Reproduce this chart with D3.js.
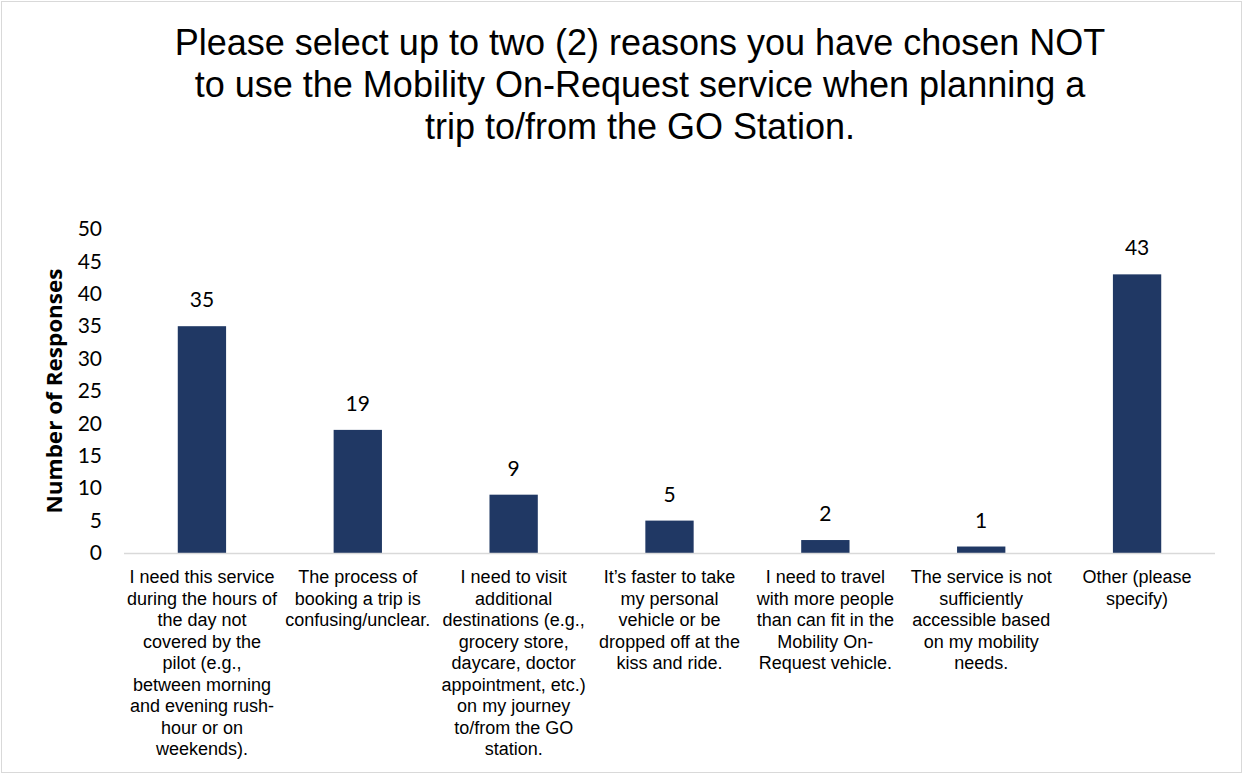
<!DOCTYPE html>
<html><head><meta charset="utf-8">
<script src="https://cdn.jsdelivr.net/npm/d3@7/dist/d3.min.js"></script>
<style>body{margin:0;background:#fff}svg{display:block}</style>
</head><body>
<svg id="c" width="1244" height="775"></svg>
<script>
const titleLines = ["Please select up to two (2) reasons you have chosen NOT","to use the Mobility On-Request service when planning a","trip to/from the GO Station."];
const categories = [
 ["I need this service","during the hours of","the day not","covered by the","pilot (e.g.,","between morning","and evening rush-","hour or on","weekends)."],
 ["The process of","booking a trip is","confusing/unclear."],
 ["I need to visit","additional","destinations (e.g.,","grocery store,","daycare, doctor","appointment, etc.)","on my journey","to/from the GO","station."],
 ["It\u2019s faster to take","my personal","vehicle or be","dropped off at the","kiss and ride."],
 ["I need to travel","with more people","than can fit in the","Mobility On-","Request vehicle."],
 ["The service is not","sufficiently","accessible based","on my mobility","needs."],
 ["Other (please","specify)"]
];
const values = [35, 19, 9, 5, 2, 1, 43];
const yTicks = [0,5,10,15,20,25,30,35,40,45,50];
const yTitle = "Number of Responses";

const svg = d3.select("#c");
svg.append("rect").attr("x",1.5).attr("y",1.5).attr("width",1240).attr("height",771)
  .attr("fill","#fff").attr("stroke","#d9d9d9").attr("stroke-width",1);

const x = d3.scaleBand().domain(d3.range(categories.length)).range([124,1215]).paddingInner(0.69).paddingOuter(0.345);
const y = d3.scaleLinear().domain([0,50]).range([553,229]);

// title
svg.append("text").attr("x",640).attr("y",55).attr("text-anchor","middle")
  .style("font-family","'Liberation Sans',Arial,sans-serif").style("font-size","36px").attr("fill","#000")
  .selectAll("tspan").data(titleLines).join("tspan").attr("x",640).attr("dy",(d,i)=>i?42:0).text(d=>d);

// y axis
const ya = svg.append("g").attr("transform","translate(124,0)")
  .call(d3.axisLeft(y).tickValues(yTicks).tickSize(0).tickPadding(22));
ya.select(".domain").remove();
ya.selectAll("text").style("font-family","Lato,'Open Sans',sans-serif").style("font-size","21px").attr("fill","#000");

svg.append("text").attr("transform","translate(62,391) rotate(-90)").attr("text-anchor","middle")
  .style("font-family","'Open Sans',Lato,sans-serif").style("font-size","21px").style("font-weight","bold")
  .attr("textLength",245).attr("lengthAdjust","spacingAndGlyphs")
  .attr("fill","#000").text(yTitle);

// bars
svg.selectAll("rect.bar").data(values).join("rect").attr("class","bar")
  .attr("x",(d,i)=>x(i)).attr("width",x.bandwidth())
  .attr("y",d=>y(d)).attr("height",d=>y(0)-y(d)).attr("fill","#203864");

// data labels
svg.selectAll("text.lbl").data(values).join("text").attr("class","lbl")
  .attr("x",(d,i)=>x(i)+x.bandwidth()/2).attr("y",d=>y(d)-19).attr("text-anchor","middle")
  .style("font-family","Lato,'Open Sans',sans-serif").style("font-size","21px").attr("fill","#000")
  .text(d=>d);

// x axis line
svg.append("line").attr("x1",124).attr("x2",1215).attr("y1",553.5).attr("y2",553.5)
  .attr("stroke","#d9d9d9").attr("stroke-width",1.5);

// category labels
const cg = svg.selectAll("text.cat").data(categories).join("text").attr("class","cat")
  .attr("text-anchor","middle").style("font-family","'Liberation Sans',Arial,sans-serif")
  .style("font-size","18px").attr("fill","#000")
  .attr("transform",(d,i)=>`translate(${x(i)+x.bandwidth()/2},583)`);
cg.selectAll("tspan").data(d=>d).join("tspan").attr("x",0).attr("y",(d,i)=>i*21.5).text(d=>d);
</script>
</body></html>
